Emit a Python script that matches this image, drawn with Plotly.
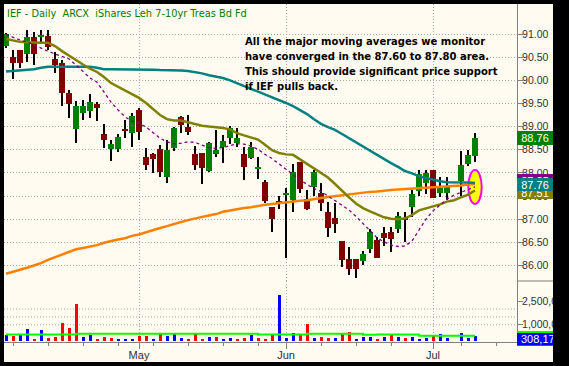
import plotly.graph_objects as go

W, H = 569, 366
ML, MR, MT, MB = 4, 52, 4, 24
PW = W - ML - MR
PH = H - MT - MB


def PX(px):
    return (px - ML) / PW


def PY(py):
    return (H - MB - py) / PH


# ---------------- data ----------------
opens = [90.75, 90.51, 90.65, 90.56, 90.94, 90.94, 90.96, 90.47, 90.37, 89.72,
         88.94, 89.29, 89.34, 89.48, 88.83, 88.52, 88.52, 88.95, 88.87, 89.36,
         88.34, 88.41, 88.52, 87.92, 88.54, 89.21, 89.00, 88.41, 88.42, 88.04,
         88.41, 88.55, 88.76, 88.64, 88.41, 88.33, 88.09, 87.81, 87.27, 87.39,
         87.52, 87.41, 88.23, 87.44, 87.70, 87.57, 87.16, 87.03, 86.53, 86.14,
         86.14, 86.09, 86.35, 86.54, 86.71, 86.72, 86.78, 87.01, 87.26, 87.61,
         87.78, 88.06, 87.56, 87.57, None, 87.83, 88.19, 88.37]
highs = [91.02, 90.65, 90.66, 91.09, 91.05, 91.09, 91.09, 90.62, 90.44, 89.79,
         89.55, 89.57, 89.70, 89.54, 89.06, 88.72, 88.83, 89.14, 89.30, 89.41,
         88.53, 88.44, 88.60, 88.71, 89.00, 89.23, 89.25, 88.59, 88.42, 88.66,
         88.93, 88.82, 89.01, 88.98, 88.57, 88.67, 88.34, 87.85, 87.27, 87.50,
         87.67, 88.19, 88.23, 87.63, 88.06, 87.78, 87.38, 87.36, 86.53, 86.41,
         86.14, 86.32, 86.78, 86.62, 86.84, 86.84, 87.16, 87.16, 87.62, 88.06,
         88.06, 88.06, 87.92, 87.92, None, 88.48, 88.49, 88.87]
lows = [90.70, 90.03, 90.27, 90.40, 90.33, 90.80, 90.65, 90.16, 89.45, 89.18,
        88.64, 89.14, 89.18, 89.13, 88.53, 88.26, 88.46, 88.76, 88.57, 88.70,
        88.06, 87.99, 87.92, 87.79, 88.48, 88.87, 88.82, 88.06, 87.76, 88.03,
        88.35, 88.22, 88.62, 88.55, 87.85, 88.29, 87.87, 87.36, 86.73, 87.23,
        86.16, 87.16, 87.56, 87.20, 87.50, 87.18, 86.62, 86.70, 85.97, 85.80,
        85.74, 86.01, 86.28, 86.16, 86.42, 86.30, 86.70, 86.51, 87.05, 87.50,
        87.55, 87.46, 87.47, 87.41, None, 87.51, 88.15, 88.24]
closes = [91.01, 90.38, 90.38, 90.94, 90.56, 90.98, 90.73, 90.32, 89.72, 89.49,
          89.44, 89.45, 89.53, 89.41, 88.70, 88.62, 88.78, 88.91, 89.23, 88.89,
          88.18, 88.30, 88.03, 88.50, 88.97, 89.03, 88.89, 88.16, 88.11, 88.65,
          88.49, 88.69, 88.98, 88.76, 88.13, 88.57, 88.13, 87.39, 87.00, 87.33,
          87.57, 88.01, 87.65, 87.21, 88.01, 87.34, 86.80, 86.89, 86.11, 85.93,
          85.93, 86.25, 86.73, 86.17, 86.59, 86.57, 87.07, 87.00, 87.54, 87.97,
          88.00, 87.46, 87.70, 87.70, None, 88.17, 88.39, 88.76]

volumes = [360000, 300000, 420000, 740000, 110000, 680000, 170000, 230000, 1120000, 800000,
           2320000, 230000, 360000, 110000, 230000, 170000, 110000, 110000, 110000, 300000,
           300000, 110000, 490000, 300000, 420000, 170000, 110000, 420000, 110000, 230000,
           230000, 110000, 170000, 110000, 170000, 360000, 170000, 110000, 360000, 2890000,
           170000, 490000, 420000, 1060000, 170000, 230000, 170000, 170000, 490000, 550000,
           110000, 230000, 230000, 110000, 230000, 420000, 230000, 170000, 230000, 110000,
           170000, 300000, 420000, 170000, None, 490000, 170000, 308170]
# 1 = volume bar drawn blue (close up), 0 = red
vol_up = [1, 0, 1, 1, 0, 1, 0, 0, 0, 0,
          0, 1, 1, 0, 0, 0, 1, 1, 1, 0,
          0, 1, 0, 1, 1, 1, 0, 0, 0, 1,
          0, 1, 1, 0, 0, 1, 0, 0, 0, 1,
          1, 1, 0, 0, 1, 0, 0, 1, 0, 0,
          1, 1, 1, 0, 1, 0, 1, 0, 1, 1,
          1, 0, 1, 1, None, 1, 1, 1]
vol_ma = [390000] * 10 + [430000] * 26 + [390000] * 7 + [430000] * 8 + [370000] * 2 \
    + [390000] * 6 + [310000] * 9

ma_purple = [90.99, 90.93, 90.87, 90.83, 90.76, 90.70, 90.63, 90.57, 90.52, 90.46,
             90.33, 90.18, 90.05, 89.96, 89.75, 89.53, 89.36, 89.21, 89.12, 89.07,
             88.99, 88.86, 88.75, 88.67, 88.63, 88.64, 88.67, 88.66, 88.60, 88.54,
             88.53, 88.55, 88.59, 88.63, 88.62, 88.58, 88.51, 88.40, 88.31, 88.19,
             88.08, 87.97, 87.85, 87.75, 87.66, 87.60, 87.50, 87.40, 87.31, 87.20,
             87.06, 86.90, 86.75, 86.60, 86.51, 86.44, 86.41, 86.42, 86.53, 86.78,
             87.00, 87.18, 87.31, 87.43, 87.52, 87.58, 87.64, 87.70]
ma_olive = [90.89, 90.86, 90.83, 90.82, 90.81, 90.81, 90.81, 90.74, 90.63, 90.54,
            90.44, 90.34, 90.25, 90.18, 90.07, 89.94, 89.86, 89.77, 89.69, 89.62,
            89.51, 89.37, 89.25, 89.16, 89.13, 89.13, 89.09, 89.05, 89.02, 89.00,
            88.99, 88.97, 88.94, 88.86, 88.81, 88.76, 88.72, 88.61, 88.49, 88.43,
            88.40, 88.39, 88.29, 88.19, 88.10, 87.99, 87.90, 87.76, 87.61, 87.47,
            87.34, 87.24, 87.17, 87.10, 87.04, 87.01, 87.00, 87.02, 87.09, 87.19,
            87.23, 87.27, 87.32, 87.38, 87.41, 87.47, 87.53, 87.62]
ma_teal = [90.19, 90.20, 90.21, 90.22, 90.24, 90.27, 90.29, 90.29, 90.29, 90.29,
           90.29, 90.29, 90.29, 90.27, 90.24, 90.24, 90.24, 90.24, 90.24, 90.24,
           90.24, 90.23, 90.22, 90.22, 90.22, 90.21, 90.20, 90.18, 90.15, 90.11,
           90.08, 90.05, 90.00, 89.94, 89.88, 89.81, 89.76, 89.70, 89.64, 89.57,
           89.51, 89.44, 89.36, 89.27, 89.16, 89.06, 88.99, 88.93, 88.84, 88.75,
           88.66, 88.56, 88.47, 88.39, 88.30, 88.21, 88.13, 88.04, 87.99, 87.93,
           87.89, 87.85, 87.82, 87.80, 87.80, 87.79, 87.79, 87.78]
ma_orange = [85.82, 85.86, 85.90, 85.95, 86.00, 86.05, 86.12, 86.18, 86.24, 86.29,
             86.35, 86.38, 86.41, 86.44, 86.49, 86.53, 86.56, 86.59, 86.64, 86.67,
             86.72, 86.77, 86.81, 86.85, 86.90, 86.94, 86.98, 87.02, 87.05, 87.08,
             87.11, 87.16, 87.19, 87.22, 87.24, 87.26, 87.29, 87.31, 87.33, 87.35,
             87.37, 87.39, 87.40, 87.41, 87.44, 87.46, 87.48, 87.50, 87.52, 87.53,
             87.55, 87.57, 87.59, 87.60, 87.62, 87.63, 87.64, 87.65, 87.65, 87.66,
             87.67, 87.68, 87.70, 87.71, 87.72, 87.73, 87.75, 87.76]

month_pos = [19, 40, 61]
month_labels = ["May", "Jun", "Jul"]
week_pos = [1, 6, 11, 16, 21, 26, 31, 36, 45, 50, 55, 65, 70]
price_ticks = [86.0, 86.5, 87.0, 87.5, 88.0, 88.5, 89.0, 89.5, 90.0, 90.5, 91.0]
vol_ticks = [1000000, 2500000]
vol_ticktext = ["1,000,0...", "2,500,0..."]
vol_grid = [1000000, 1500000, 2000000]

title_text = "IEF - Daily\u00a0\u00a0ARCX\u00a0\u00a0iShares Leh 7-10yr Treas Bd Fd"
note_lines = ["All the major moving averages we monitor",
              "have converged in the 87.60 to 87.80 area.",
              "This should provide significant price support",
              "if IEF pulls back."]
badge_last = "88.76"
badge_purple = "87.85"
badge_olive = "87.51"
badge_teal = "87.76"
badge_vol = "308,170.0"

# ---------------- styles ----------------
BG = "#fffbf0"
UP = "#008000"
DN = "#800000"
GRID = "#a8a8a8"
AXC = "#808080"
TXT = "#303030"

n = len(closes)
xs = list(range(n))

wick_base, wick_h, body_base, body_h, body_col = [], [], [], [], []
for o, h, l, c in zip(opens, highs, lows, closes):
    if o is None:
        wick_base.append(None); wick_h.append(None)
        body_base.append(None); body_h.append(None); body_col.append(UP)
        continue
    wick_base.append(l); wick_h.append(h - l)
    body_base.append(min(o, c)); body_h.append(abs(c - o))
    body_col.append(UP if c >= o else DN)

vol_col = ["#0000ff" if u == 1 else "#ff0000" for u in vol_up]

fig = go.Figure()

fig.add_trace(go.Bar(x=xs, y=volumes, yaxis="y2", width=0.43,
                     marker=dict(color=vol_col, line=dict(width=0)), hoverinfo="skip"))
fig.add_trace(go.Bar(x=xs, y=wick_h, base=wick_base, width=0.29,
                     marker=dict(color="#000000", line=dict(width=0)), hoverinfo="skip"))
fig.add_trace(go.Bar(x=xs, y=body_h, base=body_base, width=0.84,
                     marker=dict(color=body_col, line=dict(width=0)), hoverinfo="skip"))

fig.add_trace(go.Scatter(x=xs, y=ma_orange, mode="lines",
                         line=dict(color="#ff8000", width=2.5), hoverinfo="skip"))
fig.add_trace(go.Scatter(x=xs, y=ma_teal, mode="lines",
                         line=dict(color="#008080", width=2.5), hoverinfo="skip"))
fig.add_trace(go.Scatter(x=xs, y=ma_olive, mode="lines",
                         line=dict(color="#808000", width=2.5), hoverinfo="skip"))
fig.add_trace(go.Scatter(x=xs, y=ma_purple, mode="lines",
                         line=dict(color="#800080", width=1.3, dash="3px,3px"), hoverinfo="skip"))
fig.add_trace(go.Scatter(x=xs, y=vol_ma, yaxis="y2", mode="lines", line_shape="hv",
                         line=dict(color="#00ff00", width=2), hoverinfo="skip"))

shapes = []
# ellipse highlight
shapes.append(dict(type="circle", xref="x", yref="y", x0=66.04, x1=67.96, y0=87.33, y1=88.06,
                   fillcolor="#ffff00", line=dict(color="#ff00ff", width=2), layer="between"))
# volume grid lines
for v in vol_grid:
    shapes.append(dict(type="line", xref="paper", yref="y2", x0=0, x1=1, y0=v, y1=v,
                       line=dict(color=GRID, width=1, dash="1px,2px"), layer="below"))
# separator in label column
shapes.append(dict(type="line", xref="paper", yref="paper", x0=PX(517), x1=PX(553),
                   y0=PY(281), y1=PY(281), line=dict(color=AXC, width=1), layer="above"))
# volume badge
shapes.append(dict(type="rect", xref="paper", yref="paper", x0=PX(517), x1=PX(553),
                   y0=PY(345.7), y1=PY(331.7), fillcolor="#0000ff", line=dict(width=0), layer="above"))
shapes.append(dict(type="line", xref="paper", yref="paper", x0=PX(517), x1=PX(553),
                   y0=PY(332), y1=PY(332), line=dict(color="#00ff00", width=2), layer="above"))
# black frame
for (x0, x1, y0, y1) in [(-2, 4, -2, 368), (553, 571, -2, 368), (-2, 571, 362, 368), (-2, 571, -2, 4)]:
    shapes.append(dict(type="rect", xref="paper", yref="paper", x0=PX(x0), x1=PX(x1),
                       y0=PY(y1), y1=PY(y0), fillcolor="#000000", line=dict(width=0), layer="above"))

ann = []
ann.append(dict(text=title_text, xref="paper", yref="paper", x=PX(5), y=PY(13),
                xanchor="left", yanchor="middle", showarrow=False,
                font=dict(family="DejaVu Sans", size=9.8, color="#008000")))
for k, (line, yc) in enumerate(zip(note_lines, [41.8, 56.5, 71.3, 86.3])):
    ann.append(dict(text=line, xref="paper", yref="paper", x=PX(243), y=PY(yc),
                    xanchor="left", yanchor="middle", showarrow=False,
                    font=dict(family="DejaVu Sans", size=10, color="#000000", weight="bold")))


def badge(text, yc, color, h=13):
    return dict(text=text, xref="paper", yref="paper", x=PX(517), y=PY(yc),
                xanchor="left", yanchor="middle", showarrow=False, width=36, height=h,
                bgcolor=color, borderpad=0, borderwidth=0, align="center",
                font=dict(family="Liberation Sans", size=11, color="#ffffff"))


ann.append(badge(badge_purple, 180.5, "#800080"))
ann.append(badge(badge_olive, 192.2, "#808000"))
ann.append(badge(badge_teal, 184.5, "#008080"))
ann.append(badge(badge_last, 137.8, "#008000", h=13.7))
ann.append(dict(text=badge_vol, xref="paper", yref="paper", x=PX(521), y=PY(338.7),
                xanchor="left", yanchor="middle", showarrow=False, width=32, height=13,
                borderpad=0, borderwidth=0, align="left",
                font=dict(family="Liberation Sans", size=11, color="#ffffff")))

price_dom = PY(281)

fig.update_layout(
    width=W, height=H, margin=dict(l=ML, r=MR, t=MT, b=MB, autoexpand=False),
    paper_bgcolor=BG, plot_bgcolor=BG, showlegend=False, barmode="overlay",
    bargap=0, hovermode=False, shapes=shapes, annotations=ann,
    xaxis=dict(range=[-0.286, 73.0], anchor="y2", tickvals=month_pos, ticktext=month_labels,
               automargin=False, ticklabelstandoff=-3,
               ticks="outside", ticklen=6, tickcolor=AXC, tickwidth=1,
               showline=True, linecolor=AXC, linewidth=1,
               showgrid=True, gridcolor=GRID, gridwidth=1, griddash="1px,2px",
               zeroline=False, tickfont=dict(family="Liberation Sans", size=11, color=TXT),
               minor=dict(tickvals=week_pos, ticks="outside", ticklen=3, tickcolor=AXC, showgrid=False)),
    yaxis=dict(domain=[price_dom, 1], range=[85.665, 91.648], side="right", anchor="x",
               automargin=False, ticklabelstandoff=-3,
               tickvals=price_ticks, tickformat=".2f", ticks="outside", ticklen=5,
               tickcolor=AXC, showline=True, linecolor=AXC, linewidth=1,
               showgrid=True, gridcolor=GRID, gridwidth=1, griddash="1px,2px", zeroline=False,
               tickfont=dict(family="Liberation Sans", size=10.5, color=TXT)),
    yaxis2=dict(domain=[0, price_dom], range=[-88600, 3772000], side="right", anchor="x",
                automargin=False, ticklabelstandoff=-3,
                tickvals=vol_ticks, ticktext=vol_ticktext, ticks="outside", ticklen=5,
                tickcolor=AXC, showline=True, linecolor=AXC, linewidth=1,
                showgrid=False, zeroline=False,
                tickfont=dict(family="Liberation Sans", size=10.5, color=TXT)),
)

fig.write_html("out.html", config={"displayModeBar": False},
               post_script="document.body.style.margin='0';")
